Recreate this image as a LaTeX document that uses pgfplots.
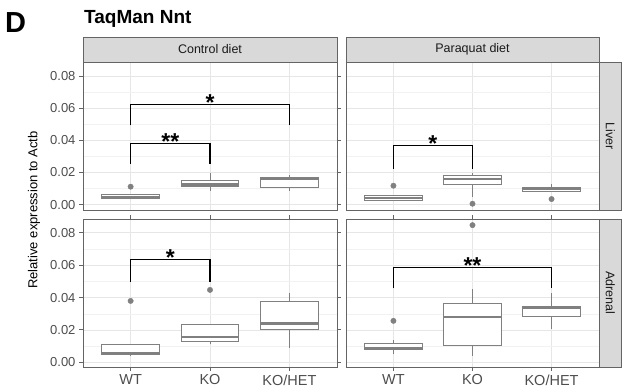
\documentclass[border=0pt]{standalone}
\usepackage{fontspec}
\setmainfont{Liberation Sans}
\usepackage{pgfplots}
\pgfplotsset{compat=1.18}

\definecolor{boxgray}{RGB}{128,128,128}
\definecolor{frame}{RGB}{100,100,100}
\definecolor{stripfill}{RGB}{217,217,217}
\definecolor{gridmaj}{RGB}{230,230,230}
\definecolor{gridmin}{RGB}{242,242,242}
\definecolor{ticklab}{RGB}{77,77,77}
\definecolor{striptext}{RGB}{26,26,26}

% #1 position, #2 left edge, #3 right edge, #4 lower whisker, #5 lower quartile, #6 median, #7 upper quartile, #8 upper whisker
\newcommand{\bx}[8]{%
\addplot[boxgray, line width=1pt] coordinates {(#1,#4) (#1,#5)};
\addplot[boxgray, line width=1pt] coordinates {(#1,#7) (#1,#8)};
\addplot[draw=boxgray, fill=white, line width=1pt] coordinates {(#2,#5) (#3,#5) (#3,#7) (#2,#7)} --cycle;
\addplot[boxgray, line width=2.2pt] coordinates {(#2,#6) (#3,#6)};
}
\newcommand{\bracket}[4]{\addplot[black, line width=1.3pt] coordinates {(#1,#3) (#1,#4) (#2,#4) (#2,#3)};}
\newcommand{\stars}[3]{\node[anchor=base, inner sep=0pt, yshift=-6pt, font=\bfseries\fontsize{23}{23}\selectfont] at (axis cs:#1,#2) {#3};}

\pgfplotsset{
 panel/.style={
  scale only axis, height=148pt,
  xmin=0.4, xmax=3.6, xtick={1,2,3},
  ytick={0,0.02,0.04,0.06,0.08}, minor ytick={0.01,0.03,0.05,0.07},
  xmajorgrids, ymajorgrids, yminorgrids,
  major grid style={gridmaj, line width=0.7pt},
  minor grid style={gridmin, line width=0.4pt},
  axis line style={frame, line width=0.9pt},
  tick align=outside, major tick length=4pt, minor tick length=0pt,
  tick style={frame, line width=0.9pt},
  scaled y ticks=false,
  yticklabel style={/pgf/number format/.cd, fixed, fixed zerofill, precision=2, assume math mode=true},
  tick label style={font=\fontsize{13}{13}\selectfont, text=ticklab},
 },
 toprow/.style={ymin=-0.0033, ymax=0.0887, xticklabels={}, xmajorticks=false},
 botrow/.style={ymin=-0.0029, ymax=0.0885, xticklabels={WT,KO,KO/HET},
   xticklabel style={font=\fontsize{14.5}{14.5}\selectfont}},
 leftcol/.style={width=254pt},
 rightcol/.style={width=253pt, yticklabels={}, ymajorticks=false},
 outl/.style={only marks, mark=*, mark size=2.7pt, mark options={draw=boxgray, fill=boxgray}},
}

\begin{document}
\begin{tikzpicture}
\useasboundingbox (0pt,0pt) rectangle (622pt,390pt);

% Control diet / Liver
\begin{axis}[panel, toprow, leftcol, at={(83pt,180pt)}, anchor=south west]
\bx{1}{0.635}{1.365}{0.0040}{0.0040}{0.0050}{0.0065}{0.0065}
\bx{2}{1.635}{2.365}{0.0087}{0.0112}{0.0126}{0.0151}{0.0199}
\bx{3}{2.635}{3.365}{0.0087}{0.0108}{0.0158}{0.0168}{0.0187}
\addplot[outl] coordinates {(1,0.0112)};
\bracket{1}{2}{0.0253}{0.0381}
\bracket{1}{3}{0.0493}{0.0622}
\stars{1.5}{0.0381}{**}
\stars{2}{0.0622}{*}
\end{axis}

% Paraquat diet / Liver
\begin{axis}[panel, toprow, rightcol, at={(346pt,180pt)}, anchor=south west]
\bx{1}{0.635}{1.365}{0.0029}{0.0029}{0.0044}{0.0058}{0.0058}
\bx{2}{1.635}{2.365}{0.0050}{0.0128}{0.0160}{0.0184}{0.0199}
\bx{3}{2.635}{3.365}{0.0079}{0.0079}{0.0099}{0.0108}{0.0128}
\addplot[outl] coordinates {(1,0.0118) (2,0.0006) (3,0.0035)};
\bracket{1}{2}{0.0224}{0.0369}
\stars{1.5}{0.0369}{*}
\end{axis}

% Control diet / Adrenal
\begin{axis}[panel, botrow, leftcol, at={(83pt,23pt)}, anchor=south west]
\bx{1}{0.635}{1.365}{0.0040}{0.0047}{0.0054}{0.0113}{0.0113}
\bx{2}{1.635}{2.365}{0.0111}{0.0130}{0.0155}{0.0233}{0.0233}
\bx{3}{2.635}{3.365}{0.0089}{0.0204}{0.0239}{0.0373}{0.0429}
\addplot[outl] coordinates {(1,0.0379) (2,0.0447)};
\bracket{1}{2}{0.0497}{0.0637}
\stars{1.5}{0.0637}{*}
\end{axis}

% Paraquat diet / Adrenal
\begin{axis}[panel, botrow, rightcol, at={(346pt,23pt)}, anchor=south west]
\bx{1}{0.635}{1.365}{0.0049}{0.0078}{0.0089}{0.0115}{0.0140}
\bx{2}{1.635}{2.365}{0.0039}{0.0103}{0.0278}{0.0363}{0.0452}
\bx{3}{2.635}{3.365}{0.0208}{0.0280}{0.0336}{0.0342}{0.0425}
\addplot[outl] coordinates {(1,0.0256) (2,0.0847)};
\bracket{1}{3}{0.0456}{0.0584}
\stars{2}{0.0584}{**}
\end{axis}

% strips
\begin{scope}[every node/.style={font=\fontsize{12.5}{12.5}\selectfont, text=striptext}]
\draw[frame, line width=0.9pt, fill=stripfill] (83pt,328pt) rectangle (337pt,353pt);
\node at (210pt,340.5pt) {Control diet};
\draw[frame, line width=0.9pt, fill=stripfill] (346pt,328pt) rectangle (599pt,353pt);
\node at (472.5pt,340.5pt) {Paraquat diet};
\draw[frame, line width=0.9pt, fill=stripfill] (599pt,180pt) rectangle (621.5pt,328pt);
\node[rotate=-90] at (610.25pt,254pt) {Liver};
\draw[frame, line width=0.9pt, fill=stripfill] (599pt,23pt) rectangle (621.5pt,171pt);
\node[rotate=-90] at (610.25pt,97pt) {Adrenal};
\end{scope}

% titles
\node[anchor=base west, inner sep=0pt, font=\bfseries\fontsize{29}{29}\selectfont] at (5pt,357pt) {D};
\node[anchor=base west, inner sep=0pt, font=\bfseries\fontsize{19}{19}\selectfont] at (84pt,366pt) {TaqMan Nnt};
\node[rotate=90, font=\fontsize{13}{13}\selectfont] at (34pt,180pt) {Relative expression to Actb};
\end{tikzpicture}
\end{document}
